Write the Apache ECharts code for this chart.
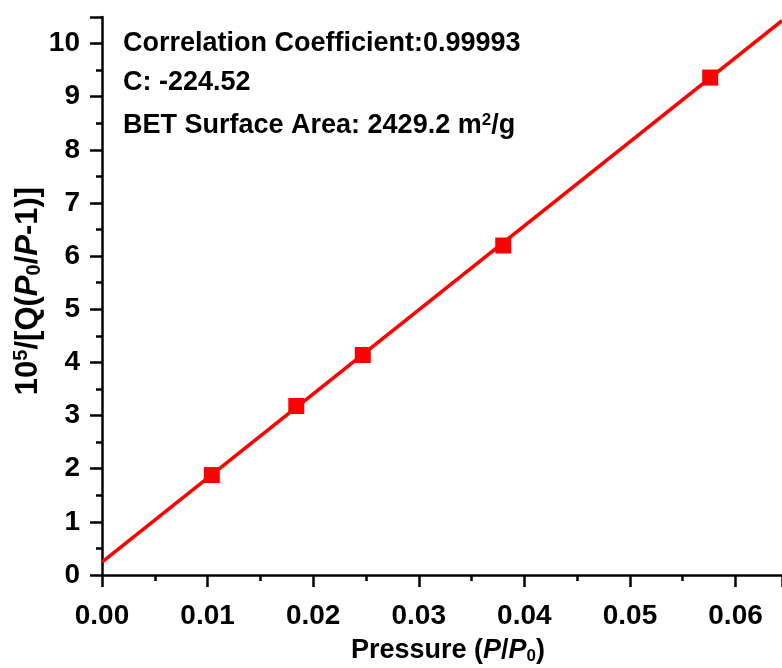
<!DOCTYPE html>
<html>
<head>
    <meta charset="utf-8">
    <title>BET plot</title>
    <script src="https://cdn.jsdelivr.net/npm/echarts@6.0.0/dist/echarts.min.js"></script>
    <style>
        body { margin: 0; padding: 0; background: #fff; }
        #chart { width: 782px; height: 668px; }
    </style>
</head>
<body>
    <div id="chart"></div>
    <script>
        // measured points (P/P0, 10^5/[Q(P0/P-1)])
        var pressure = [0.0104, 0.0184, 0.0247, 0.0380, 0.0576];
        var betValue = [1.88, 3.18, 4.14, 6.20, 9.36];
        // linear fit end points
        var fitX = [0, 0.0644];
        var fitY = [0.244, 10.43];
        var xTicks = [0, 0.01, 0.02, 0.03, 0.04, 0.05, 0.06];
        var infoLines = ['Correlation Coefficient:0.99993', 'C: -224.52', 'BET Surface Area: 2429.2 m{sup|2}/g'];

        var font = '"Liberation Sans", Arial, sans-serif';
        var chart = echarts.init(document.getElementById('chart'));

        var points = pressure.map(function (p, i) { return [p, betValue[i]]; });
        var fit = fitX.map(function (x, i) { return [x, fitY[i]]; });

        var axisCommon = {
            axisLine: { lineStyle: { color: '#000', width: 2.5 } },
            axisTick: { inside: false, length: 12, lineStyle: { color: '#000', width: 2.5 } },
            minorTick: { show: true, splitNumber: 2, length: 6, lineStyle: { color: '#000', width: 2.5 } },
            splitLine: { show: false },
            axisLabel: { color: '#000', fontSize: 28, fontWeight: 'bold', fontFamily: font }
        };

        var option = {
            animation: false,
            backgroundColor: '#fff',
            grid: { left: 102, right: 0, top: 17, bottom: 93, containLabel: false, outerBoundsMode: 'none' },
            xAxis: Object.assign({}, axisCommon, {
                type: 'value',
                min: 0,
                max: fitX[1],
                interval: 0.01,
                axisLabel: Object.assign({}, axisCommon.axisLabel, {
                    margin: 27,
                    formatter: function (v) {
                        return xTicks.indexOf(Math.round(v * 100) / 100) >= 0 ? v.toFixed(2) : '';
                    }
                }),
                name: 'Pressure ({i|P}/{i|P}{sub|0})',
                nameLocation: 'middle',
                nameGap: 61,
                nameMoveOverlap: false,
                nameTextStyle: {
                    color: '#000', fontSize: 27, fontWeight: 'bold', fontFamily: font,
                    padding: [0, 0, 0, 12],
                    rich: {
                        i: { fontStyle: 'italic', fontWeight: 'bold', fontSize: 27, fontFamily: font, color: '#000' },
                        sub: { fontSize: 17, fontWeight: 'bold', fontFamily: font, color: '#000', padding: [12, 0, 0, 0] }
                    }
                }
            }),
            yAxis: Object.assign({}, axisCommon, {
                type: 'value',
                min: 0,
                max: 10.5,
                interval: 1,
                axisLabel: Object.assign({}, axisCommon.axisLabel, {
                    margin: 22,
                    formatter: function (v) { return v % 1 === 0 ? String(v) : ''; }
                }),
                name: '10{sup|5}/[Q({i|P}{sub|0}/{i|P}-1)]',
                nameLocation: 'middle',
                nameRotate: 90,
                nameGap: 57,
                nameMoveOverlap: false,
                nameTextStyle: {
                    color: '#000', fontSize: 31, fontWeight: 'bold', fontFamily: font,
                    padding: [0, 0, 0, 10],
                    rich: {
                        i: { fontStyle: 'italic', fontWeight: 'bold', fontSize: 31, fontFamily: font, color: '#000' },
                        sup: { fontSize: 20, fontWeight: 'bold', fontFamily: font, color: '#000', padding: [0, 0, 14, 0] },
                        sub: { fontSize: 20, fontWeight: 'bold', fontFamily: font, color: '#000', padding: [12, 0, 0, 0] }
                    }
                }
            }),
            series: [
                {
                    type: 'line',
                    data: fit,
                    symbol: 'none',
                    lineStyle: { color: '#ff0000', width: 3.5 },
                    z: 2
                },
                {
                    type: 'scatter',
                    data: points,
                    symbol: 'rect',
                    symbolSize: 16,
                    itemStyle: { color: '#ff0000', opacity: 1 },
                    z: 3
                }
            ],
            graphic: infoLines.map(function (t, i) {
                return {
                    type: 'text',
                    x: 123,
                    y: [44, 83, 126][i],
                    style: {
                        text: t,
                        fill: '#000',
                        fontSize: 27,
                        fontWeight: 'bold',
                        fontFamily: font,
                        verticalAlign: 'middle',
                        rich: {
                            sup: { fontSize: 17, fontWeight: 'bold', fontFamily: font, fill: '#000', padding: [0, 0, 12, 0] }
                        }
                    }
                };
            })
        };

        chart.setOption(option);
    </script>
</body>
</html>
